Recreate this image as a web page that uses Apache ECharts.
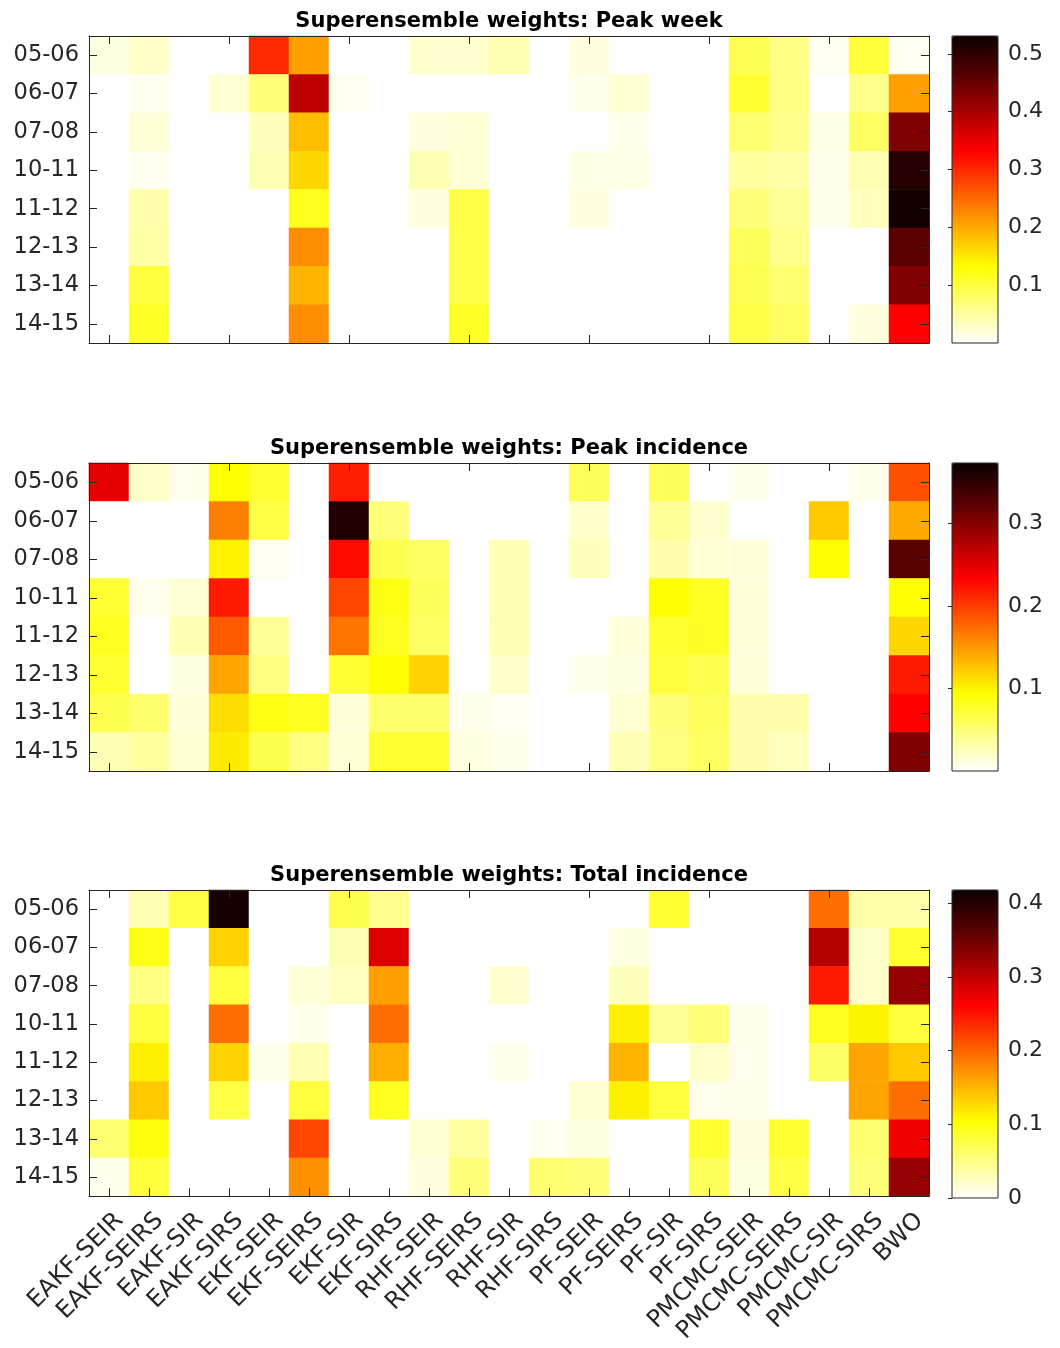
<!DOCTYPE html>
<html>
<head>
<meta charset="utf-8">
<script src="https://cdn.jsdelivr.net/npm/echarts@6/dist/echarts.min.js"></script>
<style>
html,body{margin:0;padding:0;background:#ffffff;}
#chart{width:1060px;height:1348px;}
</style>
</head>
<body>
<div id="chart"></div>
<script>
// ---------------- data ----------------
const models = ['EAKF-SEIR','EAKF-SEIRS','EAKF-SIR','EAKF-SIRS','EKF-SEIR','EKF-SEIRS','EKF-SIR','EKF-SIRS',
  'RHF-SEIR','RHF-SEIRS','RHF-SIR','RHF-SIRS','PF-SEIR','PF-SEIRS','PF-SIR','PF-SIRS',
  'PMCMC-SEIR','PMCMC-SEIRS','PMCMC-SIR','PMCMC-SIRS','BWO'];
const seasons = ['05-06','06-07','07-08','10-11','11-12','12-13','13-14','14-15'];

const titles = ['Superensemble weights: Peak week',
                'Superensemble weights: Peak incidence',
                'Superensemble weights: Total incidence'];

// rows = seasons, columns = models
const peakWeek = [
  [0.015,0.029,0,0,0.300,0.207,0,0,0.026,0.026,0.042,0,0.016,0,0,0,0.091,0.065,0.008,0.102,0.008],
  [0,0.008,0,0.023,0.070,0.383,0.008,0,0,0,0,0,0.010,0.023,0,0,0.107,0.065,0,0.060,0.207],
  [0,0.021,0,0,0.034,0.184,0,0,0.016,0.021,0,0,0,0.010,0,0,0.075,0.060,0.013,0.081,0.431],
  [0,0.008,0,0,0.039,0.164,0,0,0.039,0.021,0,0,0.013,0.013,0,0,0.050,0.047,0.010,0.039,0.508],
  [0,0.044,0,0,0,0.117,0,0,0.018,0.096,0,0,0.016,0,0,0,0.070,0.055,0.010,0.034,0.525],
  [0,0.047,0,0,0,0.222,0,0,0,0.096,0,0,0,0,0,0,0.086,0.060,0,0,0.461],
  [0,0.102,0,0,0,0.191,0,0,0,0.096,0,0,0,0,0,0,0.091,0.075,0,0,0.431],
  [0,0.112,0,0,0,0.222,0,0,0,0.112,0,0,0,0,0,0,0.096,0.081,0,0.018,0.332]
];
const peakIncidence = [
  [0.247,0.020,0.007,0.093,0.075,0,0.217,0,0,0,0,0,0.060,0,0.060,0,0.007,0,0,0.007,0.189],
  [0,0,0,0.163,0.068,0,0.358,0.049,0,0,0,0,0.020,0,0.038,0.018,0,0,0.123,0,0.140],
  [0,0,0,0.101,0.005,0,0.228,0.064,0.057,0,0.027,0,0.024,0,0.031,0.015,0.013,0,0.093,0,0.324],
  [0.075,0.007,0.015,0.219,0,0,0.195,0.086,0.060,0,0.027,0,0,0,0.093,0.079,0.013,0,0,0,0.093],
  [0.082,0,0.027,0.184,0.038,0,0.170,0.082,0.057,0,0.027,0,0,0.013,0.075,0.079,0.013,0,0,0,0.115],
  [0.075,0,0.011,0.143,0.046,0,0.075,0.093,0.118,0,0.020,0,0.007,0.011,0.071,0.064,0.013,0,0,0,0.219],
  [0.064,0.053,0.013,0.112,0.086,0.082,0.013,0.053,0.053,0.007,0.005,0,0,0.017,0.049,0.060,0.031,0.031,0,0,0.233],
  [0.027,0.035,0.017,0.104,0.064,0.046,0.015,0.075,0.075,0.011,0.007,0,0,0.027,0.046,0.057,0.031,0.024,0,0,0.303]
];
const totalIncidence = [
  [0,0.031,0.076,0.410,0,0,0.072,0.047,0,0,0,0,0,0,0.084,0,0,0,0.193,0.035,0.035],
  [0,0.096,0,0.132,0,0,0.031,0.283,0,0,0,0,0,0.012,0,0,0,0,0.307,0.022,0.084],
  [0,0.051,0,0.080,0,0.016,0.025,0.163,0,0,0.020,0,0,0.027,0,0,0,0,0.246,0.022,0.326],
  [0,0.080,0,0.193,0,0.008,0,0.193,0,0,0,0,0,0.114,0.043,0.055,0.008,0,0.092,0.111,0.080],
  [0,0.114,0,0.132,0.008,0.031,0,0.154,0,0,0.008,0,0,0.150,0,0.022,0.008,0,0.063,0.160,0.138],
  [0,0.138,0,0.076,0,0.080,0,0.092,0,0,0,0,0.018,0.114,0.080,0.008,0.008,0,0,0.160,0.193],
  [0.059,0.100,0,0,0,0.218,0,0,0.018,0.039,0,0.006,0.012,0,0,0.084,0.014,0.084,0,0.059,0.270],
  [0.008,0.080,0,0,0,0.172,0,0,0.014,0.055,0,0.059,0.055,0,0,0.068,0.012,0.076,0,0.055,0.326]
];

// colour-scale limits and colour-bar tick step
const colorMax = [0.531, 0.373, 0.418];
const colorTickStep = 0.1;
const showZeroTick = [false, false, true];

// ---------------- style / layout ----------------
const FONT = 'DejaVu Sans';
const INK = '#262626';
const hotColors = ['#ffffff','#ffff80','#ffff00','#ffaa00','#ff5500','#ff0000','#aa0000','#550000','#0b0000'];
const gridLeft = 89, gridWidth = 840;
const gridTops = [36, 463, 890];
const gridHeights = [307, 308, 308];
const barLeft = 952, barWidth = 46;

const datasets = [peakWeek, peakIncidence, totalIncidence];

function toCells(matrix) {
  const out = [];
  matrix.forEach((row, r) => row.forEach((v, c) => out.push([c, r, v])));
  return out;
}

const option = {
  animation: false,
  backgroundColor: '#ffffff',
  title: [], grid: [], xAxis: [], yAxis: [], visualMap: [], series: []
};

datasets.forEach((mat, i) => {
  option.title.push({
    text: titles[i], left: gridLeft + gridWidth / 2, top: gridTops[i] - 26,
    textAlign: 'center', padding: 0,
    textStyle: {fontFamily: FONT, fontSize: 21, fontWeight: 'bold', color: '#000', lineHeight: 24}
  });
  option.grid.push({left: gridLeft, top: gridTops[i], width: gridWidth, height: gridHeights[i]});
  const common = {
    gridIndex: i, z: 5,
    axisLine: {show: true, lineStyle: {color: INK, width: 1}},
    axisTick: {show: true, inside: true, length: 8, alignWithLabel: true, lineStyle: {color: INK, width: 1}},
    splitLine: {show: false}
  };
  option.xAxis.push(Object.assign({}, common, {
    type: 'category', data: models, position: 'bottom',
    axisLabel: i === 2 ? {
      show: true, interval: 0, rotate: 45, align: 'right', verticalAlign: 'top',
      lineHeight: 30, margin: 10, fontFamily: FONT, fontSize: 24, color: INK
    } : {show: false}
  }));
  option.xAxis.push(Object.assign({}, common, {
    type: 'category', data: models, position: 'top', axisLabel: {show: false}
  }));
  option.yAxis.push(Object.assign({}, common, {
    type: 'category', data: seasons, inverse: true, position: 'left',
    axisLabel: {show: true, margin: 10, padding: [7, 0, 0, 0], fontFamily: FONT, fontSize: 22.5, color: INK}
  }));
  option.yAxis.push(Object.assign({}, common, {
    type: 'category', data: seasons, inverse: true, position: 'right', axisLabel: {show: false}
  }));
  option.series.push({
    type: 'heatmap', xAxisIndex: 2 * i, yAxisIndex: 2 * i,
    data: toCells(mat), itemStyle: {borderWidth: 0},
    emphasis: {disabled: true}, progressive: 0
  });
  option.visualMap.push({
    type: 'continuous', seriesIndex: i, dimension: 2,
    min: 0, max: colorMax[i], calculable: false, orient: 'vertical',
    left: barLeft, top: gridTops[i], itemWidth: barWidth, itemHeight: gridHeights[i],
    padding: 0, text: null, hoverLink: false,
    inRange: {color: hotColors}
  });
});

// colour bars: axis frame + ticks
datasets.forEach((mat, i) => {
  option.grid.push({
    left: barLeft, top: gridTops[i], width: barWidth, height: gridHeights[i],
    show: true, borderColor: INK, borderWidth: 1, backgroundColor: 'rgba(0,0,0,0)', z: 10
  });
  option.xAxis.push({gridIndex: 3 + i, type: 'value', show: false, min: 0, max: 1});
  option.yAxis.push({
    gridIndex: 3 + i, type: 'value', position: 'right', z: 11,
    min: 0, max: colorMax[i], interval: colorTickStep,
    axisLine: {show: false},
    axisTick: {show: true, inside: true, length: 4, lineStyle: {color: INK}},
    splitLine: {show: false},
    axisLabel: {
      show: true, margin: 10, padding: [4, 0, 0, 0], showMinLabel: showZeroTick[i], showMaxLabel: false,
      fontFamily: FONT, fontSize: 22, color: INK,
      formatter: v => (v === 0 ? '0' : v.toFixed(1))
    }
  });
});

const chart = echarts.init(document.getElementById('chart'), null, {renderer: 'canvas'});
chart.setOption(option);
</script>
</body>
</html>
